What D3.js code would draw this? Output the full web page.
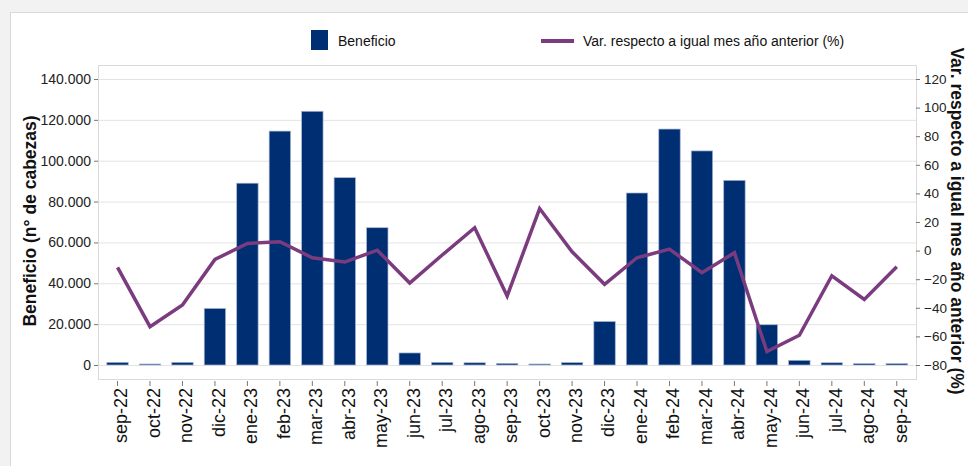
<!DOCTYPE html>
<html><head><meta charset="utf-8">
<script src="https://cdn.jsdelivr.net/npm/d3@7"></script>
<style>
html,body{margin:0;padding:0;background:#f2f2f2;}
svg{display:block;font-family:"Liberation Sans",Arial,sans-serif;}
</style></head>
<body>
<svg id="chart" width="968" height="466"></svg>
<script>
const months = ["sep-22","oct-22","nov-22","dic-22","ene-23","feb-23","mar-23","abr-23","may-23","jun-23","jul-23","ago-23","sep-23","oct-23","nov-23","dic-23","ene-24","feb-24","mar-24","abr-24","may-24","jun-24","jul-24","ago-24","sep-24"];
const beneficio = [1300,500,1300,27700,89000,114500,124200,91700,67200,5900,1300,1100,800,500,1200,21300,84200,115500,104800,90400,19700,2300,1100,700,700];
const variacion = [-11.7,-53.2,-38,-6.2,5,6.2,-5,-8,0.3,-22.7,-3.1,16,-31.8,29.4,-0.8,-23.6,-5,1,-15.5,-1.5,-70.6,-59.2,-17.6,-34.1,-11.3];
const leftTicks = [0,20000,40000,60000,80000,100000,120000,140000];
const rightTicks = [-80,-60,-40,-20,0,20,40,60,80,100,120];
const seriesNames = ["Beneficio","Var. respecto a igual mes año anterior (%)"];
const axisTitles = ["Beneficio (n° de cabezas)","Var. respecto a igual mes año anterior (%)"];

const barColor = "#002e73", lineColor = "#7b3b7f";
const svg = d3.select("#chart");
const loc = d3.formatLocale({decimal:",",thousands:".",grouping:[3],currency:["","€"]});
const fmt = loc.format(",d");

// card
svg.append("rect").attr("x",10.5).attr("y",12.5).attr("width",980).attr("height",480)
  .attr("fill","#fff").attr("stroke","#d9d9d9");

const plot = {l:98, t:65, r:916, b:379};
const x = d3.scaleBand().domain(months).range([101.3,913]).paddingInner(0.34).paddingOuter(0.17);
const yL = d3.scaleLinear().domain([0,140000]).range([365,79]);
const yR = d3.scaleLinear().domain([-80,120]).range([365,79]);

// gridlines
svg.append("g").selectAll("line").data(leftTicks).join("line")
  .attr("x1",plot.l).attr("x2",plot.r).attr("y1",d=>yL(d)+0.5).attr("y2",d=>yL(d)+0.5)
  .attr("stroke","#e3e3e3").attr("stroke-width",1);

// plot frame
svg.append("rect").attr("x",plot.l+0.5).attr("y",plot.t+0.5).attr("width",plot.r-plot.l).attr("height",plot.b-plot.t)
  .attr("fill","none").attr("stroke","#d9d9d9");

// bars
svg.append("g").selectAll("rect").data(months).join("rect")
  .attr("x",d=>x(d)).attr("width",x.bandwidth())
  .attr("y",(d,i)=>yL(beneficio[i])).attr("height",(d,i)=>yL(0)-yL(beneficio[i]))
  .attr("fill",barColor).attr("stroke","#a9b7d4").attr("stroke-width",0.7);

// line
const line = d3.line().x((d,i)=>x(months[i])+x.bandwidth()/2).y(d=>yR(d));
svg.append("path").datum(variacion).attr("d",line).attr("fill","none")
  .attr("stroke",lineColor).attr("stroke-width",3.5).attr("stroke-linejoin","miter");

// left axis
const gl = svg.append("g").attr("transform",`translate(${plot.l},0)`)
  .call(d3.axisLeft(yL).tickValues(leftTicks).tickFormat(fmt).tickSize(4).tickPadding(3));
gl.select(".domain").remove();
gl.selectAll(".tick line").attr("stroke","#777");
gl.selectAll("text").attr("font-size",14).attr("fill","#222").attr("font-family","Liberation Sans, Arial, sans-serif");

// right axis
const gr = svg.append("g").attr("transform",`translate(${plot.r},0)`)
  .call(d3.axisRight(yR).tickValues(rightTicks).tickSize(4).tickPadding(4));
gr.select(".domain").remove();
gr.selectAll(".tick line").attr("stroke","#777");
gr.selectAll("text").attr("font-size",13.5).attr("fill","#222").attr("font-family","Liberation Sans, Arial, sans-serif");

// bottom axis
const gb = svg.append("g").attr("transform",`translate(0,${plot.b+2})`)
  .call(d3.axisBottom(x).tickSize(5).tickPadding(3));
gb.select(".domain").remove();
gb.selectAll(".tick line").attr("stroke","#777");
gb.selectAll("text").attr("font-size",18).attr("fill","#111").attr("font-family","Liberation Sans, Arial, sans-serif")
  .attr("text-anchor","end").attr("transform","translate(0,7) rotate(-90)")
  .attr("x",0).attr("y",0).attr("dy","0.55em");

// axis titles
svg.append("text").attr("transform","translate(36,221) rotate(-90)").attr("text-anchor","middle")
  .attr("font-weight","bold").attr("font-size",17.5).attr("fill","#111").text(axisTitles[0]);
svg.append("text").attr("transform","translate(951,221) rotate(90)").attr("text-anchor","middle")
  .attr("font-weight","bold").attr("font-size",17.5).attr("fill","#111").text(axisTitles[1]);

// legend
svg.append("rect").attr("x",311).attr("y",30).attr("width",17).attr("height",20).attr("fill",barColor);
svg.append("text").attr("x",338).attr("y",46).attr("font-size",14).attr("fill","#111").text(seriesNames[0]);
svg.append("line").attr("x1",541).attr("x2",574).attr("y1",41).attr("y2",41)
  .attr("stroke",lineColor).attr("stroke-width",4);
svg.append("text").attr("x",583).attr("y",46).attr("font-size",14).attr("fill","#111").text(seriesNames[1]);
</script>
</body></html>
